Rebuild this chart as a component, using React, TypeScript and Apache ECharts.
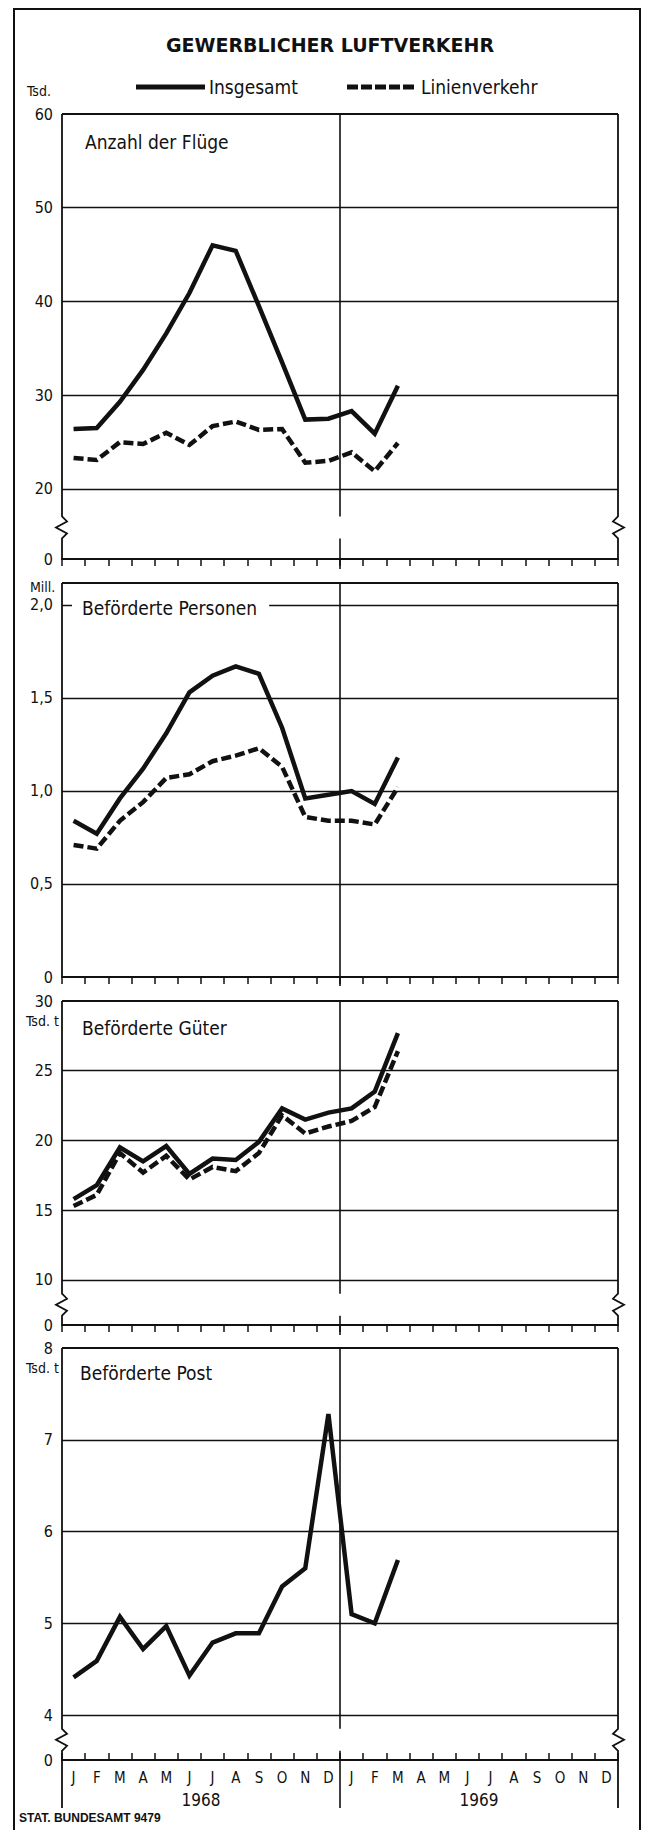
import React, { useEffect, useRef } from "react";
import * as echarts from "echarts";

// ---------- data ----------
const monthLetters = ["J", "F", "M", "A", "M", "J", "J", "A", "S", "O", "N", "D"];
const years = ["1968", "1969"];
const categories = years.flatMap((y) =>
  monthLetters.map((_, i) => `${y}-${String(i + 1).padStart(2, "0")}`)
);

const fluegeInsgesamt = [26.4, 26.5, 29.3, 32.7, 36.6, 40.9, 46.0, 45.4, 39.5, 33.5, 27.4, 27.5, 28.3, 25.9, 31.0];
const fluegeLinien = [23.3, 23.1, 25.0, 24.8, 26.0, 24.7, 26.7, 27.2, 26.3, 26.4, 22.8, 23.0, 23.9, 21.9, 24.9];
const personenInsgesamt = [0.84, 0.77, 0.96, 1.12, 1.31, 1.53, 1.62, 1.67, 1.63, 1.34, 0.96, 0.98, 1.0, 0.93, 1.18];
const personenLinien = [0.71, 0.69, 0.84, 0.94, 1.07, 1.09, 1.16, 1.19, 1.23, 1.13, 0.86, 0.84, 0.84, 0.82, 1.02];
const gueterInsgesamt = [15.8, 16.8, 19.5, 18.5, 19.6, 17.6, 18.7, 18.6, 19.9, 22.3, 21.5, 22.0, 22.3, 23.5, 27.7];
const gueterLinien = [15.3, 16.1, 19.1, 17.7, 18.9, 17.2, 18.1, 17.8, 19.1, 21.8, 20.5, 21.0, 21.4, 22.4, 26.4];
const postInsgesamt = [4.41, 4.59, 5.07, 4.72, 4.97, 4.43, 4.79, 4.89, 4.89, 5.4, 5.6, 7.28, 5.1, 5.0, 5.69];

const fluegeTicks = [20, 30, 40, 50, 60];
const personenTicks = [0, 0.5, 1.0, 1.5, 2.0];
const gueterTicks = [10, 15, 20, 25, 30];
const postTicks = [4, 5, 6, 7, 8];

const seriesNames = ["Insgesamt", "Linienverkehr"];
const chartTitle = "GEWERBLICHER LUFTVERKEHR";
const sourceNote = "STAT. BUNDESAMT 9479";

// ---------- layout ----------
const NARROW = "'Liberation Sans Narrow', 'DejaVu Sans Condensed', 'Liberation Sans', sans-serif";
const INK = "#111";
const L = 62;
const W = 556;
const R = L + W;

type Panel = {
  title: string;
  unit: string;
  ticks: number[];
  floor: number; // value placed at the broken "0" baseline
  top: number; // value at the box top
  broken: boolean;
  decimals: number;
  series: number[][];
  gridTop: number;
  gridHeight: number;
  titleX: number;
  titleY: number;
  titleBg: boolean;
  unitX: number;
  unitY: number;
};

const panels: Panel[] = [
  {
    title: "Anzahl der Flüge", unit: "Tsd.", ticks: fluegeTicks, floor: 12.53, top: 60, broken: true, decimals: 0,
    series: [fluegeInsgesamt, fluegeLinien], gridTop: 114, gridHeight: 445,
    titleX: 85, titleY: 142, titleBg: false, unitX: 27, unitY: 91,
  },
  {
    title: "Beförderte Personen", unit: "Mill.", ticks: personenTicks, floor: 0, top: 2.118, broken: false, decimals: 1,
    series: [personenInsgesamt, personenLinien], gridTop: 583, gridHeight: 394,
    titleX: 72, titleY: 608, titleBg: true, unitX: 30, unitY: 587,
  },
  {
    title: "Beförderte Güter", unit: "Tsd. t", ticks: gueterTicks, floor: 6.77, top: 30, broken: true, decimals: 0,
    series: [gueterInsgesamt, gueterLinien], gridTop: 1001, gridHeight: 324,
    titleX: 82, titleY: 1028, titleBg: false, unitX: 26, unitY: 1021,
  },
  {
    title: "Beförderte Post", unit: "Tsd. t", ticks: postTicks, floor: 3.51, top: 8, broken: true, decimals: 0,
    series: [postInsgesamt], gridTop: 1348, gridHeight: 412,
    titleX: 80, titleY: 1373, titleBg: false, unitX: 26, unitY: 1368,
  },
];

const fmt = (v: number, p: Panel) => {
  if (p.broken && Math.abs(v - p.floor) < 1e-9) return "0";
  if (v === 0) return "0";
  return p.decimals ? v.toFixed(p.decimals).replace(".", ",") : String(v);
};

function buildOption() {
  const last = panels.length - 1;
  return {
    animation: false,
    backgroundColor: "#ffffff",
    grid: panels.map((p) => ({ left: L, width: W, top: p.gridTop, height: p.gridHeight })),
    xAxis: panels.map((p, i) => ({
      type: "category",
      gridIndex: i,
      data: categories,
      boundaryGap: true,
      axisLine: { show: true, lineStyle: { color: INK, width: 2 } },
      axisTick: { show: true, inside: i === last, length: 7, lineStyle: { color: INK, width: 1.5 }, interval: 0 },
      axisLabel: {
        show: i === last,
        interval: 0,
        margin: 10,
        color: INK,
        fontSize: 15,
        fontFamily: NARROW,
        formatter: (_v: string, idx: number) => monthLetters[idx % 12],
      },
      splitLine: { show: false },
    })),
    yAxis: panels.map((p, i) => ({
      type: "value",
      gridIndex: i,
      min: p.floor,
      max: p.top,
      axisLine: { show: false },
      axisTick: { show: false },
      splitLine: { show: false },
      axisLabel: {
        show: true,
        customValues: p.broken ? [p.floor, ...p.ticks] : p.ticks,
        showMinLabel: true,
        showMaxLabel: true,
        margin: 9,
        color: INK,
        fontSize: 16,
        fontFamily: NARROW,
        formatter: (v: number) => fmt(v, p),
      },
    })),
    series: panels.flatMap((p, i) =>
      p.series.map((data, k) => ({
        name: seriesNames[k],
        type: "line",
        xAxisIndex: i,
        yAxisIndex: i,
        data,
        symbol: "none",
        z: 3,
        lineStyle: { color: INK, width: 4.5, type: k === 0 ? "solid" : [10, 4], cap: "butt", join: "miter" },
        markLine:
          k === 0
            ? {
                silent: true,
                symbol: ["none", "none"],
                label: { show: false },
                lineStyle: { color: INK, width: 1.3, type: "solid" },
                data: p.ticks.filter((v) => v > p.floor && v < p.top).map((v) => ({ yAxis: v })),
              }
            : undefined,
      }))
    ),
  };
}

export default function App() {
  const ref = useRef<HTMLDivElement>(null);
  useEffect(() => {
    const chart = echarts.init(ref.current!, null, { renderer: "svg" });
    chart.setOption(buildOption() as any);

    const els: any[] = [];
    const line = (x1: number, y1: number, x2: number, y2: number, w = 1.8, dash?: number[]) =>
      els.push({
        type: "line",
        z: 50,
        shape: { x1, y1, x2, y2 },
        style: { stroke: INK, lineWidth: w, lineDash: dash || null },
      });
    const poly = (points: number[][], w = 1.8) =>
      els.push({ type: "polyline", z: 50, shape: { points }, style: { stroke: INK, lineWidth: w, fill: null } });
    const text = (t: string, x: number, y: number, font: string, align = "left", extra: any = {}) =>
      els.push({
        type: "text",
        z: 100,
        x,
        y,
        style: {
          text: t,
          font,
          fill: INK,
          align,
          textAlign: align,
          verticalAlign: "middle",
          textVerticalAlign: "middle",
          ...extra,
        },
      });

    // outer frame
    els.push({
      type: "rect",
      z: 50,
      shape: { x: 14, y: 9, width: 626, height: 1840 },
      style: { stroke: INK, lineWidth: 2, fill: null },
    });

    // title + legend
    text(chartTitle, 330, 45, "bold 19px 'DejaVu Sans', sans-serif", "center");
    line(136, 87, 205, 87, 5);
    text(seriesNames[0], 209, 87, `19px ${NARROW}`);
    line(347, 87, 417, 87, 5, [11, 3]);
    text(seriesNames[1], 421, 87, `19px ${NARROW}`);

    const divX = L + W / 2;
    const last = panels.length - 1;
    panels.forEach((p, i) => {
      const yPix = (v: number) => chart.convertToPixel({ yAxisIndex: i } as any, v) as number;
      const yTop = yPix(p.top);
      const yBase = yPix(p.floor);
      const bottom = i === last ? 1808 : yBase;
      // box top
      line(L, yTop, R, yTop, 1.8);
      if (p.broken) {
        const yLow = yPix(p.ticks[0]);
        const c = yLow + (yBase - yLow) * 0.55;
        const h = 11;
        poly([[L, yTop], [L, c - h], [L + 5, c - 6], [L - 6, c], [L + 5, c + 6], [L, c + h], [L, bottom]]);
        poly([[R, yTop], [R, c - h], [R - 5, c - 6], [R + 6, c], [R - 5, c + 6], [R, c + h], [R, bottom]]);
        line(divX, yTop, divX, c - h, 1.6);
        line(divX, c + h, divX, i === last ? bottom : yBase + 10, 1.6);
      } else {
        line(L, yTop, L, yBase);
        line(R, yTop, R, yBase);
        line(divX, yTop, divX, yBase + 9, 1.6);
      }
      text(p.unit, p.unitX, p.unitY, `14px ${NARROW}`);
      text(
        p.title,
        p.titleX,
        p.titleY,
        `19px ${NARROW}`,
        "left",
        p.titleBg ? { backgroundColor: "#ffffff", padding: [2, 12, 2, 10] } : {}
      );
    });

    // year labels under the bottom axis
    const band = W / categories.length;
    years.forEach((y, k) => {
      text(y, L + band * (12 * k + 6), 1800, `17px ${NARROW}`, "center");
    });
    text(sourceNote, 19, 1818, "bold 12px 'Liberation Sans', sans-serif");

    chart.setOption({ graphic: { elements: els } } as any);
    return () => chart.dispose();
  }, []);

  return (
    <div
      ref={ref}
      style={{ position: "absolute", left: 0, top: 0, width: 650, height: 1830, background: "#fff" }}
    />
  );
}
